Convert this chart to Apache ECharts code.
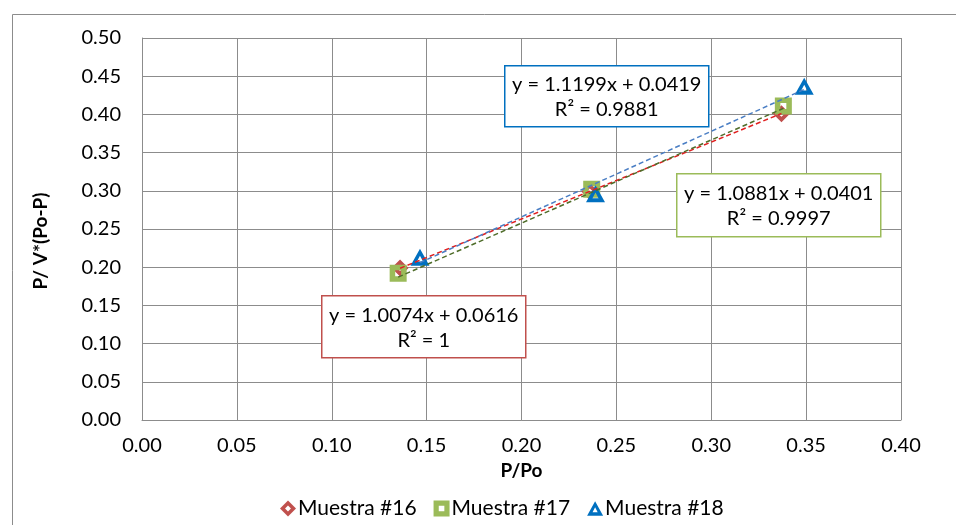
<!DOCTYPE html>
<html>
<head>
<meta charset="utf-8">
<script src="https://cdn.jsdelivr.net/npm/echarts@6/dist/echarts.min.js"></script>
<style>
  html, body { margin: 0; padding: 0; background: #fff; }
  #chart { width: 956px; height: 525px; }
</style>
</head>
<body>
<div id="chart"></div>
<script>
// Isotherm linearisation: P/Po vs P/ V*(Po-P) for three samples
const seriesNames = ['Muestra #16', 'Muestra #17', 'Muestra #18'];

const m16x = [0.136, 0.236, 0.337];
const m16y = [0.199, 0.299, 0.401];

const m17x = [0.135, 0.237, 0.338];
const m17y = [0.192, 0.302, 0.411];

const m18x = [0.1465, 0.239, 0.349];
const m18y = [0.213, 0.296, 0.437];

// Linear trendlines: [slope, intercept, R²]
const fit16 = [1.0074, 0.0616, '1'];
const fit17 = [1.0881, 0.0401, '0.9997'];
const fit18 = [1.1199, 0.0419, '0.9881'];

const xTicks = ['0.00','0.05','0.10','0.15','0.20','0.25','0.30','0.35','0.40'];
const yTicks = ['0.00','0.05','0.10','0.15','0.20','0.25','0.30','0.35','0.40','0.45','0.50'];

const FONT = 'Lato, "Open Sans", sans-serif';
const GRID_COLOR = '#8c8c8c';

// Hollow-centre marker outlines (outer contour clockwise, inner hole counter-clockwise)
const DIAMOND = 'path://M10,0 L20,10 L10,20 L0,10 Z M10,6.3 L6.3,10 L10,13.7 L13.7,10 Z';
const SQUARE = 'path://M0,0 L20,0 L20,20 L0,20 Z M6.5,6.5 L6.5,13.5 L13.5,13.5 L13.5,6.5 Z';
const TRIANGLE = 'path://M10,0 L20,18 L0,18 Z M10,7.5 L6.8,13.6 L13.2,13.6 Z';

function pts(xs, ys) { return xs.map((x, i) => [x, ys[i]]); }
function trend(xs, fit) {
  const lo = Math.min(...xs), hi = Math.max(...xs);
  return [[lo, fit[0] * lo + fit[1]], [hi, fit[0] * hi + fit[1]]];
}
function eqText(fit) {
  return 'y = ' + fit[0].toFixed(4) + 'x + ' + fit[1].toFixed(4) + '\nR² = ' + fit[2];
}
function box(x, y, w, h, color, fit) {
  return {
    type: 'group', left: x, top: y, z: 100,
    children: [
      { type: 'rect', z: 100, shape: { x: 0, y: 0, width: w, height: h },
        style: { fill: '#ffffff', stroke: color, lineWidth: 1.5 } },
      { type: 'text', z: 101, x: w / 2, y: h / 2 + 1,
        style: { text: eqText(fit), fill: '#000', font: '20px ' + FONT,
                 align: 'center', verticalAlign: 'middle', lineHeight: 25 } }
    ]
  };
}

const chart = echarts.init(document.getElementById('chart'));

chart.setOption({
  animation: false,
  backgroundColor: '#fff',
  grid: { left: 142, right: 55, top: 38, bottom: 105 },
  xAxis: {
    type: 'value', min: 0, max: 0.4, interval: 0.05,
    name: 'P/Po', nameLocation: 'middle', nameGap: 36,
    nameTextStyle: { fontFamily: FONT, fontSize: 19, fontWeight: 'bold', color: '#000' },
    axisLine: { show: true, lineStyle: { color: GRID_COLOR } },
    axisTick: { show: false },
    axisLabel: { color: '#000', fontFamily: FONT, fontSize: 20, margin: 16,
                 formatter: (v) => xTicks[Math.round(v / 0.05)] },
    splitLine: { show: true, lineStyle: { color: GRID_COLOR, width: 1 } }
  },
  yAxis: {
    type: 'value', min: 0, max: 0.5, interval: 0.05,
    name: 'P/ V*(Po-P)', nameLocation: 'middle', nameGap: 92,
    nameTextStyle: { fontFamily: FONT, fontSize: 19, fontWeight: 'bold', color: '#000',
                     padding: [0, 24, 0, 0] },
    axisLine: { show: true, lineStyle: { color: GRID_COLOR } },
    axisTick: { show: false },
    axisLabel: { color: '#000', fontFamily: FONT, fontSize: 20, margin: 21,
                 formatter: (v) => yTicks[Math.round(v / 0.05)] },
    splitLine: { show: true, lineStyle: { color: GRID_COLOR, width: 1 } }
  },
  legend: {
    data: seriesNames,
    bottom: 1, left: 275,
    itemWidth: 16, itemHeight: 16, itemGap: 17,
    textStyle: { fontFamily: FONT, fontSize: 21, color: '#000', padding: [0, 0, 0, -3] }
  },
  graphic: [
    { type: 'rect', left: 10, top: 12, z: -10, silent: true,
      shape: { width: 1000, height: 600 },
      style: { fill: 'none', stroke: '#8c8c8c', lineWidth: 1 } },
    box(504, 65, 204, 61, '#0070c0', fit18),
    box(676, 173, 204, 63, '#9bbb59', fit17),
    box(321, 295, 204, 62, '#c0504d', fit16)
  ],
  series: [
    { name: 'Muestra #16', type: 'scatter', data: pts(m16x, m16y),
      symbol: DIAMOND, symbolSize: 17, z: 3,
      itemStyle: { color: '#c0504d', opacity: 1 } },
    { name: 'Muestra #17', type: 'scatter', data: pts(m17x, m17y),
      symbol: SQUARE, symbolSize: 17, z: 4,
      itemStyle: { color: '#9bbb59', opacity: 1 } },
    { name: 'Muestra #18', type: 'scatter', data: pts(m18x, m18y),
      symbol: TRIANGLE, symbolSize: [19, 17], z: 5,
      itemStyle: { color: '#0070c0', opacity: 1 } },
    { name: 'trend16', type: 'line', data: trend(m16x, fit16), symbol: 'none', z: 6,
      lineStyle: { color: '#e02020', width: 1.5, type: [5, 3] } },
    { name: 'trend17', type: 'line', data: trend(m17x, fit17), symbol: 'none', z: 6,
      lineStyle: { color: '#4f6d2a', width: 1.5, type: [5, 3] } },
    { name: 'trend18', type: 'line', data: trend(m18x, fit18), symbol: 'none', z: 6,
      lineStyle: { color: '#4a7ec4', width: 1.5, type: [5, 3] } }
  ]
});
</script>
</body>
</html>
